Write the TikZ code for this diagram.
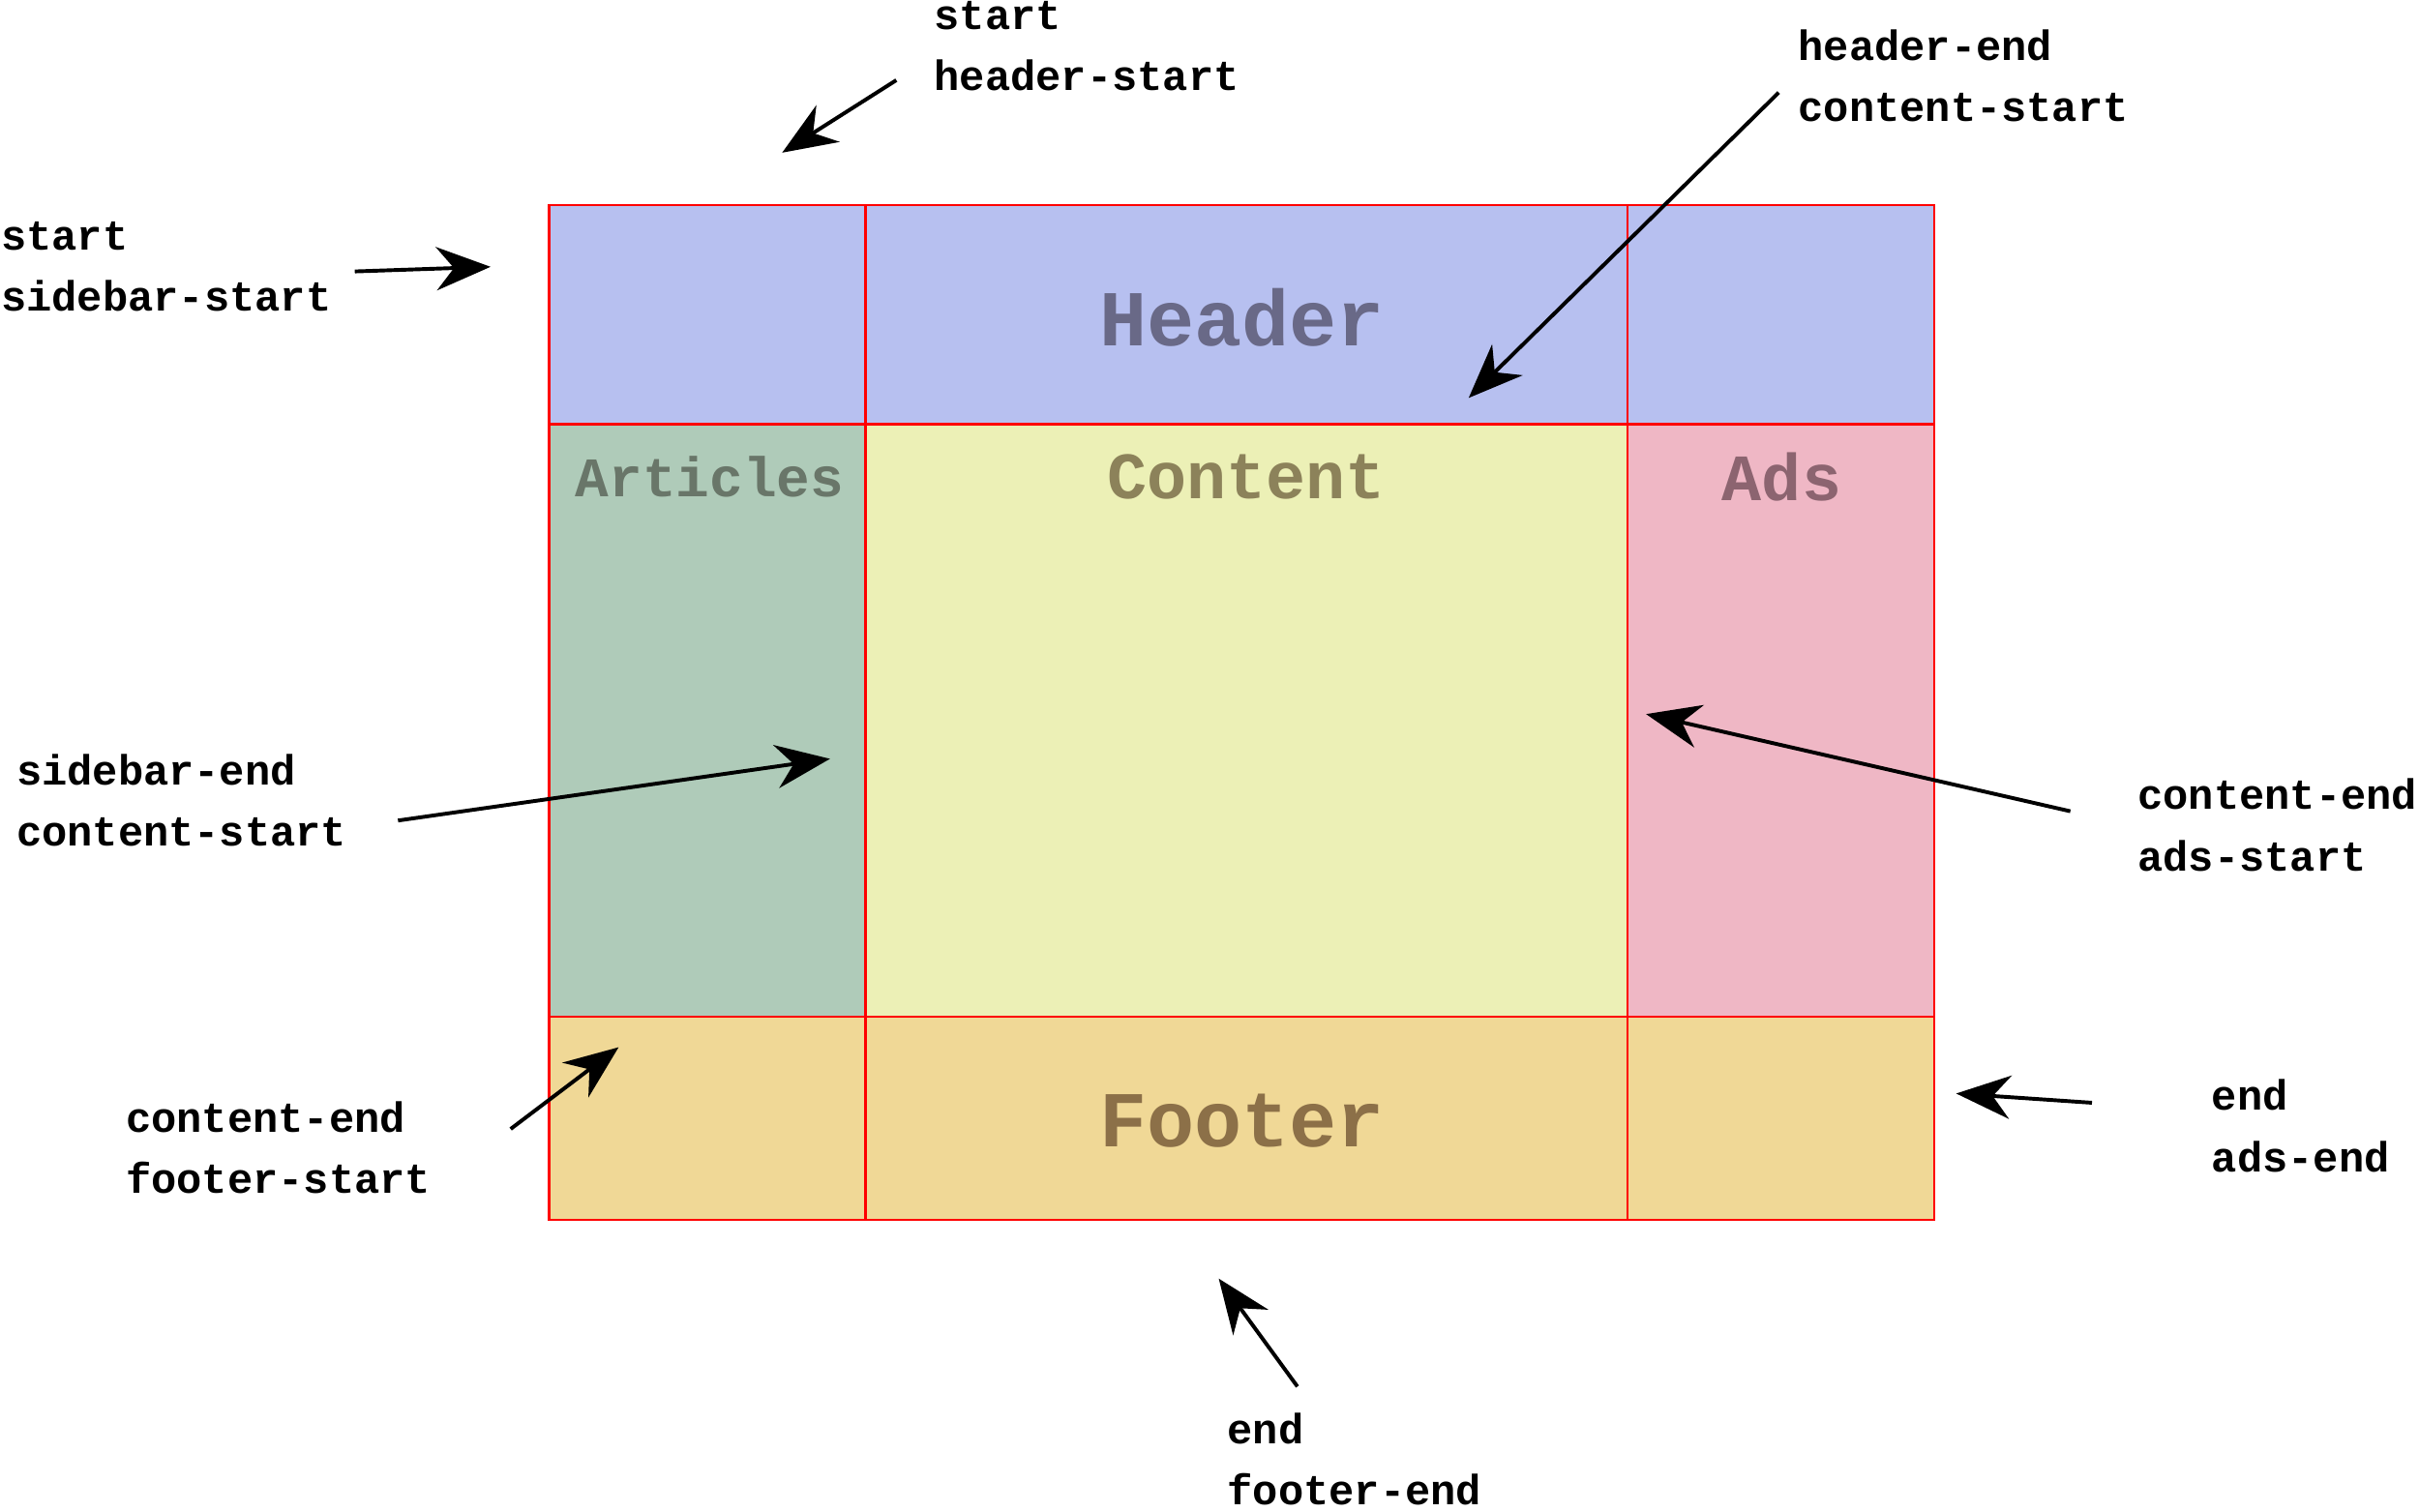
\documentclass[tikz,border=0pt]{standalone}
\usepackage{fontspec}
\setmonofont{Liberation Mono}
\usetikzlibrary{arrows.meta}
\definecolor{hdr}{RGB}{183,192,240}
\definecolor{art}{RGB}{175,203,185}
\definecolor{cnt}{RGB}{236,240,182}
\definecolor{ads}{RGB}{239,183,197}
\definecolor{ftr}{RGB}{240,216,150}
\definecolor{thdr}{RGB}{105,105,135}
\definecolor{tart}{RGB}{105,118,105}
\definecolor{tcnt}{RGB}{140,130,90}
\definecolor{tads}{RGB}{140,100,112}
\definecolor{tftr}{RGB}{140,112,72}
\tikzset{
 lbl/.style={anchor=west,align=left,inner sep=0pt,font=\fontsize{7.8}{11.3}\selectfont\ttfamily\bfseries},
 area/.style={font=\fontsize{14.6}{17}\selectfont\ttfamily\bfseries},
 subarea/.style={font=\fontsize{12.2}{15}\selectfont\ttfamily\bfseries},
 arr/.style={line width=0.7pt,-{Stealth[length=10pt,width=8pt]}},
 grid/.style={red,line width=0.4pt}
}
\begin{document}
\begin{tikzpicture}[x=0.01cm,y=-0.01cm]
\useasboundingbox (0,0) rectangle (1568,980);
\fill[hdr] (356,133) rectangle (1254,275);
\fill[art] (356,275) rectangle (561,659);
\fill[cnt] (561,275) rectangle (1055,659);
\fill[ads] (1055,275) rectangle (1254,659);
\fill[ftr] (356,659) rectangle (1254,791);
\draw[grid] (356,133) rectangle (1254,791);
\draw[grid] (561,133) -- (561,791) (1055,133) -- (1055,791);
\draw[grid] (356,275) -- (1254,275) (356,659) -- (1254,659);
\node[area,text=thdr] (h) at (805,206) {Header};
\node[subarea,text=tart,font=\fontsize{10.3}{13}\selectfont\ttfamily\bfseries] (a) at (460,309) {Articles};
\node[subarea,text=tcnt] (c) at (808,309) {Content};
\node[subarea,text=tads] (ad) at (1155,309) {Ads};
\node[area,text=tftr] (f) at (805,727) {Footer};

\node[lbl] (l1) at (605,30) {start\\header-start};
\node[lbl] (l2) at (1165,49) {header-end\\content-start};
\node[lbl] (l3) at (0,173) {start\\sidebar-start};
\node[lbl] (l4) at (10,519) {sidebar-end\\content-start};
\node[lbl] (l5) at (1385,535) {content-end\\ads-start};
\node[lbl] (l6) at (81,744) {content-end\\footer-start};
\node[lbl] (l7) at (1433,730) {end\\ads-end};
\node[lbl] (l8) at (795,946) {end\\footer-end};

\coordinate (t1) at (581,52); \coordinate (e1) at (507,99);
\coordinate (t2) at (1153,60); \coordinate (e2) at (952,258);
\coordinate (t3) at (230,176); \coordinate (e3) at (318,173);
\coordinate (t4) at (258,532); \coordinate (e4) at (538,492);
\coordinate (t5) at (1342,526); \coordinate (e5) at (1067,463);
\coordinate (t6) at (331,732); \coordinate (e6) at (401,679);
\coordinate (t7) at (1356,715); \coordinate (e7) at (1268,709);
\coordinate (t8) at (841,899); \coordinate (e8) at (790,829);
\foreach \i in {1,...,8} \draw[arr] (t\i) -- (e\i);
\end{tikzpicture}
\end{document}
